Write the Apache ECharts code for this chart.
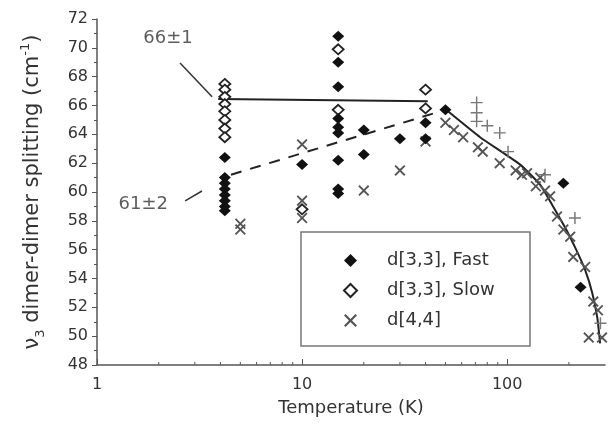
<!DOCTYPE html>
<html>
<head>
<meta charset="utf-8">
<script src="https://cdn.jsdelivr.net/npm/echarts@6/dist/echarts.min.js"></script>
<style>html,body{margin:0;padding:0;background:#fff}#c{width:611px;height:432px}</style>
</head>
<body>
<div id="c"></div>
<script>
// ---- data ----
const fastT = [4.2,4.2,4.2,4.2,4.2,4.2,4.2,4.2, 10, 15,15,15,15,15,15,15,15,15, 20,20, 30, 40,40, 50, 188, 228];
const fastV = [62.4,61.0,60.6,60.2,59.8,59.4,59.0,58.7, 61.9, 70.8,69.0,67.3,65.1,64.5,64.1,62.2,60.2,59.9, 64.3,62.6, 63.7, 64.8,63.7, 65.7, 60.6, 53.4];
const slowT = [4.2,4.2,4.2,4.2,4.2,4.2,4.2,4.2, 10, 15,15, 40,40];
const slowV = [67.5,67.1,66.6,66.1,65.6,65.0,64.4,63.8, 58.8, 69.9,65.7, 67.1,65.8];
const crossT = [5,5, 10,10,10, 20, 30, 40, 50, 55, 61, 72, 76, 92, 110, 118, 125, 138, 145, 153, 162, 175, 188, 203, 210, 240, 250, 263, 277, 290];
const crossV = [57.8,57.4, 63.3,59.4,58.2, 60.1, 61.5, 63.5, 64.8, 64.3, 63.8, 63.1, 62.8, 62.0, 61.5, 61.2, 61.3, 60.4, 61.0, 60.1, 59.7, 58.3, 57.4, 56.9, 55.5, 54.8, 49.9, 52.4, 51.8, 49.9];
const plusT = [71,71,71, 80, 92, 101, 153, 214, 285];
const plusV = [66.2,65.5,64.9, 64.6, 64.1, 62.8, 61.2, 58.2, 50.9];
const curveT = [50.4, 73.8, 115.7, 145, 167.5, 194, 217, 240, 260, 275, 284];
const curveV = [65.7, 63.8, 61.9, 60.5, 59.0, 57.4, 56.0, 54.6, 53.0, 51.3, 49.5];
const flatT = [3.9, 41];
const flatV = [66.45, 66.3];
const dashT = [4.5, 45];
const dashV = [61.2, 65.5];
const arrow66T = [2.54, 3.64];
const arrow66V = [68.95, 66.6];
const arrow61T = [2.69, 3.25];
const arrow61V = [59.38, 60.07];
const noteT = [2.22, 1.68];
const noteV = [70.68, 59.17];
const noteText = ['66±1', '61±2'];
const minorTickT = [2,3,4,5,6,7,8,9,20,30,40,50,60,70,80,90,200];
const legendNames = ['d[3,3], Fast', 'd[3,3], Slow', 'd[4,4]'];

const zip = (a, b) => a.map((v, i) => [v, b[i]]);
const FONT = 'DejaVu Sans';
const TXT = '#333';
const crossPath = 'path://M0,1.2L1.2,0L5,3.8L8.8,0L10,1.2L6.2,5L10,8.8L8.8,10L5,6.2L1.2,10L0,8.8L3.8,5Z';
const plusPath = 'path://M4.4,0H5.6V4.4H10V5.6H5.6V10H4.4V5.6H0V4.4H4.4Z';

const chart = echarts.init(document.getElementById('c'));
chart.setOption({
  animation: false,
  backgroundColor: '#fff',
  grid: { left: 97, right: 6, top: 19, bottom: 67 },
  legend: {
    data: legendNames,
    orient: 'vertical',
    left: 301, top: 232,
    padding: [19, 30, 16, 42],
    itemWidth: 13, itemHeight: 13, itemGap: 11,
    borderColor: '#777', borderWidth: 1.5,
    textStyle: { fontFamily: FONT, fontSize: 18, color: TXT, padding: [0,0,0,25], width: 113, lineHeight: 19 }
  },
  xAxis: {
    type: 'log', logBase: 10, min: 1, max: 300,
    name: 'Temperature (K)', nameLocation: 'middle', nameGap: 34,
    nameTextStyle: { fontFamily: FONT, fontSize: 18, color: TXT },
    axisLine: { lineStyle: { color: '#555', width: 1.5 } },
    axisTick: { inside: true, length: 6, lineStyle: { color: '#555' } },
    axisLabel: { fontFamily: FONT, fontSize: 16, color: TXT, margin: 12, showMaxLabel: false },
    splitLine: { show: false }
  },
  yAxis: {
    type: 'value', min: 48, max: 72, interval: 2,
    name: '{n|ν}{sub|3}{n| dimer-dimer splitting (cm}{sup|-1}{n|)}',
    nameLocation: 'middle', nameGap: 50, nameRotate: 90,
    nameTextStyle: {
      rich: {
        n: { fontFamily: FONT, fontSize: 21, color: TXT, lineHeight: 28 },
        sub: { fontFamily: FONT, fontSize: 13, color: TXT, lineHeight: 28, verticalAlign: 'bottom' },
        sup: { fontFamily: FONT, fontSize: 13, color: TXT, lineHeight: 28, verticalAlign: 'top' }
      }
    },
    axisLine: { show: true, lineStyle: { color: '#555', width: 1.5 } },
    axisTick: { show: true, length: 5, lineStyle: { color: '#555' } },
    minorTick: { show: true, splitNumber: 2, length: 3, lineStyle: { color: '#555' } },
    axisLabel: { fontFamily: FONT, fontSize: 16, color: TXT, margin: 9 },
    splitLine: { show: false }
  },
  series: [
    { type: 'custom', silent: true, clip: false, z: 1,
      data: minorTickT.map(t => [t, 48]),
      renderItem: (params, api) => {
        const p = api.coord([api.value(0), api.value(1)]);
        return { type: 'line', shape: { x1: p[0], y1: p[1], x2: p[0], y2: p[1] - 3 }, style: { stroke: '#555', lineWidth: 1 } };
      } },
    { type: 'line', data: zip(flatT, flatV), symbol: 'none', z: 2, lineStyle: { color: '#222', width: 2 } },
    { type: 'line', data: zip(dashT, dashV), symbol: 'none', z: 2, lineStyle: { color: '#222', width: 2, type: [11, 9] } },
    { type: 'line', data: zip(curveT, curveV), symbol: 'none', z: 2, smooth: 0.15, lineStyle: { color: '#222', width: 2 } },
    { type: 'line', data: zip(arrow66T, arrow66V), symbol: 'none', z: 2, lineStyle: { color: '#333', width: 1.5 } },
    { type: 'line', data: zip(arrow61T, arrow61V), symbol: 'none', z: 2, lineStyle: { color: '#333', width: 1.5 } },
    { type: 'scatter', data: zip(noteT, noteV), symbolSize: 0, z: 3,
      label: { show: true, position: 'inside', formatter: p => noteText[p.dataIndex], fontFamily: FONT, fontSize: 18, color: TXT } },
    { name: 'd[4,4]', type: 'scatter', data: zip(crossT, crossV), symbol: crossPath, symbolSize: 11, z: 4,
      itemStyle: { color: '#555', opacity: 1 } },
    { name: '+', type: 'scatter', data: zip(plusT, plusV), symbol: plusPath, symbolSize: 12, z: 4,
      itemStyle: { color: '#777', opacity: 1 } },
    { name: 'd[3,3], Slow', type: 'scatter', data: zip(slowT, slowV), symbol: 'diamond', symbolSize: [11, 10], z: 5,
      itemStyle: { color: '#fff', borderColor: '#222', borderWidth: 1.8, opacity: 1 } },
    { name: 'd[3,3], Fast', type: 'scatter', data: zip(fastT, fastV), symbol: 'diamond', symbolSize: [12, 11], z: 6,
      itemStyle: { color: '#111', opacity: 1 } }
  ]
});
</script>
</body>
</html>
